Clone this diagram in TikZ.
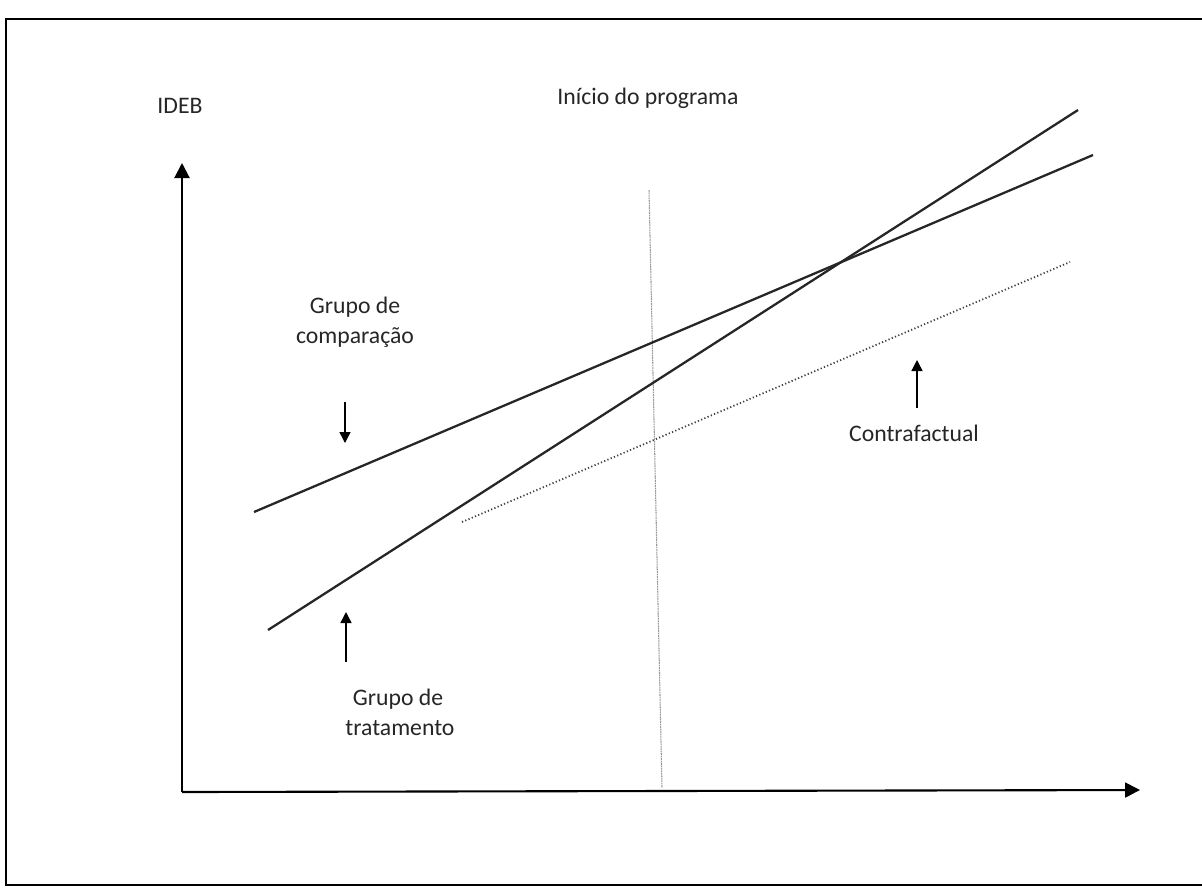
\documentclass[tikz,border=0pt]{standalone}
\usepackage{fontspec}
\setmainfont{Carlito}
\usetikzlibrary{arrows.meta}
\begin{document}
\begin{tikzpicture}[x=0.02cm,y=-0.02cm,
  lbl/.style={font=\fontsize{13.5}{17}\selectfont, text=black!85, inner sep=0pt},
  axis/.style={line width=1.2pt, -{Triangle[length=3mm,width=3mm]}},
  trend/.style={line width=1.3pt, draw=black!85},
  cf/.style={line width=1pt, draw=black!75, dash pattern=on 0.7pt off 1.3pt},
  startline/.style={line width=0.6pt, draw=black!40, dash pattern=on 1pt off 0.4pt},
  pointer/.style={line width=0.8pt, -{Triangle[length=2.2mm,width=2.2mm]}}]
\useasboundingbox (0,0) rectangle (1202,887);
% frame
\draw[line width=1.2pt] (1202,19) -- (6,19) -- (6,885) -- (1202,885);
% axes
\coordinate (O) at (182,792);
\coordinate (ytip) at (182,163);
\coordinate (xtip) at (1140,790);
\draw[axis] (O) -- (ytip);
\draw[axis] (O) -- (xtip);
\node[lbl] (ideb) at (180,106) {IDEB};
% start of programme
\node[lbl] (inicio) at (648,98) {Início do programa};
\coordinate (vtop) at (649,190);
\coordinate (vbot) at (662,788);
\draw[startline] (vtop) -- (vbot);
% trend lines
\coordinate (c1) at (254,512);
\coordinate (c2) at (1093,155);
\coordinate (t1) at (268,630);
\coordinate (t2) at (1078,110);
\coordinate (f1) at (462,522);
\coordinate (f2) at (1070,262);
\draw[trend] (c1) -- (c2);
\draw[trend] (t1) -- (t2);
\draw[cf] (f1) -- (f2);
% labels and pointers
\node[lbl, align=center] (comp) at (355,322) {Grupo de\\comparação};
\coordinate (ca1) at (345,402);
\coordinate (ca2) at (345,443);
\draw[pointer] (ca1) -- (ca2);
\coordinate (ta1) at (346,662);
\coordinate (ta2) at (346,612);
\draw[pointer] (ta1) -- (ta2);
\node[lbl, align=left, anchor=west] (trat) at (345,712) {\hspace*{0.15cm}Grupo de\\tratamento};
\coordinate (fa1) at (917,408);
\coordinate (fa2) at (917,360);
\draw[pointer] (fa1) -- (fa2);
\node[lbl] (contra) at (914,433) {Contrafactual};
\end{tikzpicture}
\end{document}
